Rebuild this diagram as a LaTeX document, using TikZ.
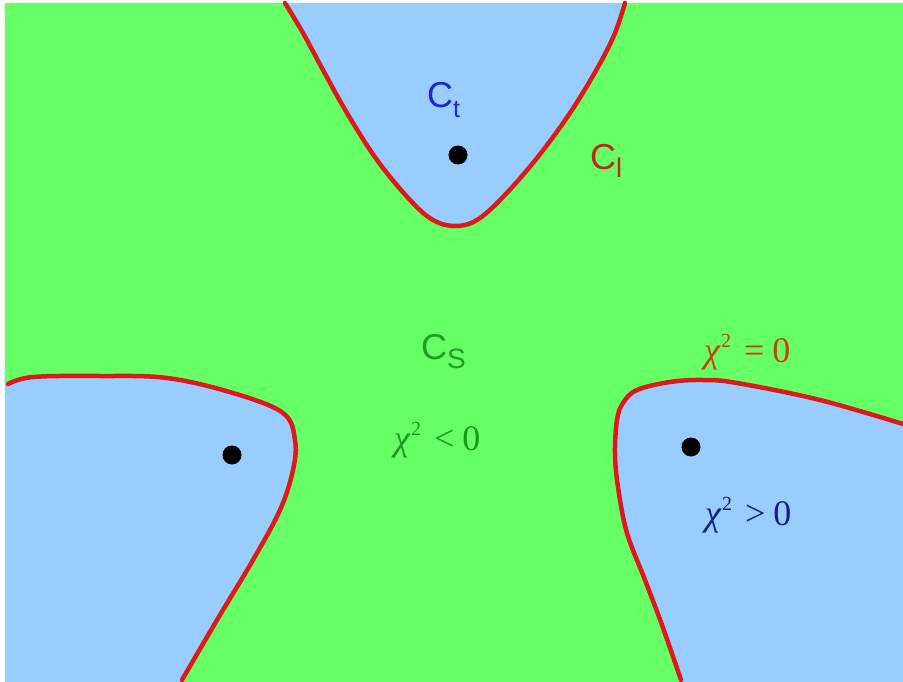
\documentclass[tikz,border=0pt]{standalone}
\usepackage{fontspec}
\setmainfont{Liberation Serif}
\newfontfamily\sansf{Liberation Sans}
\definecolor{bggreen}{HTML}{66FF66}
\definecolor{regblue}{HTML}{99CCFF}
\definecolor{curvered}{HTML}{DD1A1A}
\definecolor{ctblue}{HTML}{1E28D2}
\definecolor{clred}{HTML}{C02A0A}
\definecolor{csgreen}{HTML}{1F9F1F}
\definecolor{eqred}{HTML}{C84010}
\definecolor{ltgreen}{HTML}{1A9A1A}
\definecolor{gtblue}{HTML}{10208A}
\tikzset{
  bound/.style={draw=curvered, line width=4.5pt, line cap=round, line join=round},
  region/.style={fill=regblue},
  pole/.style={circle, fill=black, inner sep=0pt, minimum size=19pt},
  sanslabel/.style={anchor=base west, inner sep=0pt, font=\sansf\fontsize{36}{40}\selectfont},
  chilabel/.style={anchor=base west, inner sep=0pt, font=\fontsize{36}{40}\selectfont},
}
\newcommand{\chisq}[1]{{\itshape χ}\hspace{1pt}\raisebox{15pt}{\fontsize{20}{21}\selectfont 2}\hspace{13pt}#1\hspace{8pt}0}
\begin{document}
\begin{tikzpicture}[x=1pt,y=-1pt]
\useasboundingbox (0,0) rectangle (903,682);
\fill[white] (0,0) rectangle (903,682);
\fill[bggreen] (5,3) rectangle (903,682);
% top region
\def\toppts{(285,3) (303,33) (323,70) (347,113) (377,160) (410,200) (433,220) (455,226) (477,220) (503,197) (537,158) (570,113) (598,67) (615,33) (625,3)}
\fill[region] plot[smooth, tension=0.6] coordinates {\toppts} -- cycle;
\draw[bound] plot[smooth, tension=0.6] coordinates {\toppts};
% left region
\def\leftpts{(8,384) (33,377) (100,376) (167,378) (233,393) (283,413) (295,440) (293,470) (280,510) (253,560) (217,620) (182,680)}
\fill[region] plot[smooth, tension=0.6] coordinates {\leftpts} -- (182,682) -- (5,682) -- (5,384) -- cycle;
\draw[bound] plot[smooth, tension=0.6] coordinates {\leftpts};
% right region
\def\rightpts{(903,424) (820,400) (737,383) (703,380) (670,382) (637,390) (623,403) (617,420) (615,453) (618,487) (627,533) (645,580) (662,625) (681,680)}
\fill[region] plot[smooth, tension=0.6] coordinates {\rightpts} -- (681,682) -- (903,682) -- cycle;
\draw[bound] plot[smooth, tension=0.6] coordinates {\rightpts};
% poles
\node[pole] (p1) at (458,155) {};
\node[pole] (p2) at (232,455) {};
\node[pole] (p3) at (691,447) {};
% labels
\node[sanslabel, text=ctblue] (ct) at (427,108) {C\raisebox{-10pt}{\fontsize{25}{26}\selectfont t}};
\node[sanslabel, text=clred] (cl) at (590,170) {C\raisebox{-8pt}{\fontsize{27}{28}\selectfont l}};
\node[sanslabel, text=csgreen] (cs) at (421,359) {C\raisebox{-9pt}{\fontsize{28}{29}\selectfont S}};
\node[chilabel, text=eqred] (eq) at (704,362) {\chisq{=}};
\node[chilabel, text=ltgreen] (lt) at (394,450) {\chisq{<}};
\node[chilabel, text=gtblue] (gt) at (705,525) {\chisq{>}};
\end{tikzpicture}
\end{document}
